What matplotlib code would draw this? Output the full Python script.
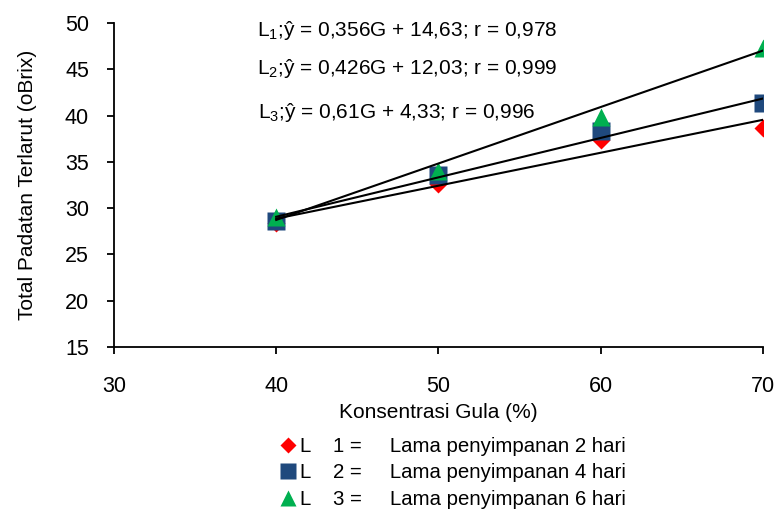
import numpy as np
import matplotlib
matplotlib.use("Agg")
import matplotlib.pyplot as plt
from matplotlib.lines import Line2D

plt.rcParams['font.family'] = ['Liberation Sans', 'DejaVu Sans']
plt.rcParams['mathtext.fontset'] = 'custom'
plt.rcParams['mathtext.rm'] = 'Liberation Sans'
plt.rcParams['mathtext.it'] = 'Liberation Sans:italic'

# data
gula = [40, 50, 60, 70]
L1 = [28.4, 32.6, 37.4, 38.7]
L2 = [28.6, 33.6, 38.3, 41.4]
L3 = [29.0, 34.0, 39.9, 47.3]

slopes = [0.356, 0.426, 0.61]
intercepts = [14.63, 12.03, 4.33]
equations = [r'L$_1$;ŷ = 0,356G + 14,63; r = 0,978',
             r'L$_2$;ŷ = 0,426G + 12,03; r = 0,999',
             r'L$_3$;ŷ = 0,61G + 4,33; r = 0,996']
legend_labels = ['L    1 =     Lama penyimpanan 2 hari',
                 'L    2 =     Lama penyimpanan 4 hari',
                 'L    3 =     Lama penyimpanan 6 hari']

colors = ['#FF0000', '#1F497D', '#00B050']
markers = ['D', 's', '^']
sizes = [9, 12.5, 13]

fig = plt.figure(figsize=(7.75, 5.13), dpi=100)
ax = fig.add_axes([0.147, 0.3236, 0.8375, 0.6314])

for ys, c, m, s in zip([L1, L2, L3], colors, markers, sizes):
    ax.plot(gula, ys, ls='none', marker=m, ms=s, color=c, mec='none', zorder=2)

xl = np.array([gula[0], gula[-1]])
for a, b in zip(slopes, intercepts):
    ax.plot(xl, a * xl + b, color='black', lw=1.5, zorder=3)

for txt, (px, py) in zip(equations, [(257, 31), (257, 68), (258, 112)]):
    fig.text(px / 775, 1 - py / 513, txt, fontsize=15, va='center', ha='left')

ax.set_xlim(30, 70)
ax.set_ylim(15, 50)
ax.set_xticks([30, 40, 50, 60, 70])
ax.set_yticks(range(15, 51, 5))
ax.spines['top'].set_visible(False)
ax.spines['right'].set_visible(False)
for sp in ['left', 'bottom']:
    ax.spines[sp].set_linewidth(1.3)
ax.tick_params(direction='out', length=5, width=1.3, labelsize=15.5)
ax.tick_params(axis='y', pad=13)
ax.tick_params(axis='x', pad=16)
ax.set_xlabel('Konsentrasi Gula (%)', fontsize=15, labelpad=4)
ax.set_ylabel('Total Padatan Terlarut (oBrix)', fontsize=15, labelpad=20)

handles = [Line2D([], [], ls='none', marker=m, ms=s * 0.9, color=c, mec='none')
           for c, m, s in zip(colors, markers, sizes)]
fig.legend(handles, legend_labels, loc='upper left', bbox_to_anchor=(282 / 775, 1 - 437 / 513),
           frameon=False, fontsize=14.7, handlelength=0.6, handletextpad=0.3,
           labelspacing=0.36, borderpad=0, borderaxespad=0)

fig.savefig('out.png', dpi=100)
